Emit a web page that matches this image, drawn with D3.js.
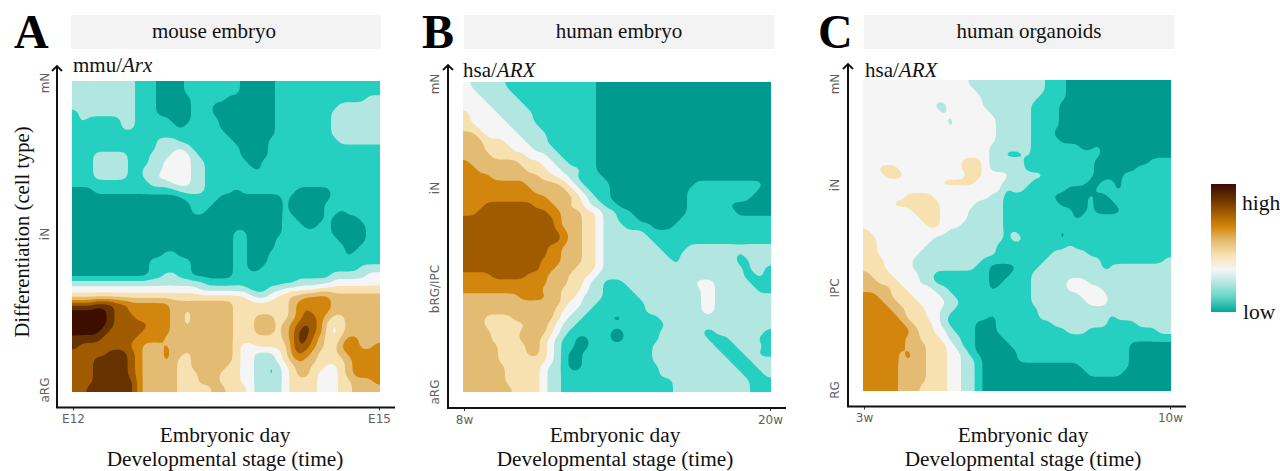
<!DOCTYPE html>
<html><head><meta charset="utf-8">
<script src="https://cdn.jsdelivr.net/npm/d3@7"></script>
<style>html,body{margin:0;background:#fff}svg{display:block}</style></head>
<body><div id="c"></div>
<script>
// expression level per grid cell (0 = low ... 9 = high); rows run from the top of the map
const mouseGrid = [
"2222222221 1100001111 1111000001 1111111111 1111",
"2222222221 1100001111 1111000001 1111111111 1111",
"2222222221 1100000111 1100000001 1111111111 1122",
"2222222221 1100000111 0000000001 1111111122 2222",
"1222222221 1100000111 0000000001 1111111222 2222",
"1211111221 1111000111 1000000001 1111111222 2222",
"1111111221 1111101111 1000000001 1111111222 2222",
"1111111111 1111111111 1100000001 1111111222 2222",
"1111111111 1122211111 1110000011 1111111122 2222",
"1111111111 1122232111 1111000011 1111111111 1111",
"1112222211 1222333211 1111000011 1111111111 1111",
"1112222211 1223333221 1111100111 1111111111 1111",
"1112222211 2223333221 1111110111 1111111111 1111",
"1112222211 2233333221 1111111111 1111111111 1111",
"1111111111 1222333221 1111111111 1111111111 1111",
"0001111111 1111122221 1110111111 1100000111 1111",
"0000000000 0000001111 1000000000 1000000111 1111",
"0000000000 0000000111 0000000000 1000001111 1111",
"0000000000 0000000110 0000000000 1000001101 1111",
"0000000000 0000000000 0000000000 1100001000 0111",
"0000000000 0000000000 0000000000 1110011000 0011",
"0000000000 0000000000 0001100000 1111111000 0011",
"0000000000 0000000000 0001100001 1111111100 0011",
"0000000000 0000000000 0001100001 1111111110 0111",
"0000000000 0001100000 0001100011 1111111110 1111",
"0000000000 0111111000 0001100011 1111111111 1111",
"0000000000 0111111000 0001100111 1111111111 1222",
"0000000000 0112211000 0001111111 1111111222 2233",
"2222222222 2222222221 1111111111 1122222333 3333",
"3333333333 3333333322 2222211122 3333344444 4444",
"4444444444 4444444444 4444432234 4556666555 5555",
"7778887766 6666555555 5554444444 4566666555 5555",
"9999987766 6666554555 5554444444 4567666555 5555",
"9999987776 6666554555 5554445554 4567765445 5555",
"9999987777 7666554555 5554445554 5678764345 5555",
"9999877777 6666555555 5554445554 5688764345 5555",
"8888777776 6665555555 5554444444 5688654356 6555",
"8777777766 5556555555 5554334444 4687654466 6556",
"7777788876 5556554555 5554332223 4676544456 6666",
"7778888876 5556544555 5554332223 4565544445 6666",
"7778888876 5555544555 5544332212 3455443345 6666",
"7778888876 5555544455 5444332212 3455433345 6666",
"7778888886 5555544455 5444332222 3444433344 5556",
"7788888886 5555544444 5544432222 3444433344 5555"];

const humanGrid = [
"3222221111 1111111110 0000000000 0000000000 0000",
"3322222111 1111111110 0000000000 0000000000 0000",
"3332222211 1111111110 0000000000 0000000000 0000",
"3333222221 1111111110 0000000000 0000000000 0000",
"4333322222 1111111110 0000000000 0000000000 0000",
"4333332222 1111111110 0000000000 0000000000 0000",
"4433333222 2111111110 0000000000 0000000000 0000",
"5543333322 2211111110 0000000000 0000000000 0000",
"5554443332 2211111110 0000000000 0000000000 0000",
"5554444333 2221111110 0000000000 0000000000 0000",
"5555444443 3322111110 0000000000 0000000000 0000",
"6555555544 4332211110 0000000000 0000000000 0000",
"6655555554 4433222110 0000000000 0000000000 0000",
"6666555555 5443321111 0000000000 0000000000 0000",
"6666666665 5555432111 1000000000 0001111111 1110",
"6666666666 5555543211 1000000000 0011111111 1100",
"6666666666 6655554321 1000000000 0011111111 1000",
"6667777777 6665544322 1100000000 0011111100 0000",
"6677777777 7766555443 2211000000 0011111110 0000",
"7777777777 7776555443 2211100000 0111111111 1111",
"7777777777 7776555443 2221111000 1111111111 1111",
"7777777777 7777655443 2222221111 1111111111 1111",
"7777777777 7777655443 2222222111 1111111111 1111",
"7777777777 7766555443 2222222211 1122222222 2222",
"7777777777 7766555443 2222222221 1222222221 2222",
"7777777777 7666555443 2222222222 1222222221 1222",
"7777777777 7665554443 2222222222 2222222222 1221",
"6666777776 6655544432 2222222222 2222222222 1121",
"6666666666 6655544322 1112222222 2223332222 2111",
"6666666666 6555444322 1111222222 2222332222 2211",
"5555555566 6655443222 1111122222 2222332222 2222",
"5555555555 5555433221 1111112222 2222332222 2222",
"5555555555 5554332211 1111112222 2222332222 2222",
"5554444555 5554322111 1001111122 2222222222 2222",
"5554444445 5543221111 1111111112 2222222222 2222",
"5555444455 5543211111 1001111122 2222112222 2221",
"5555444455 5432110011 1001111122 2222211122 2211",
"5555544445 5432110011 1111111222 2222221112 2221",
"5555544445 5432100111 1111111222 2222222111 2211",
"5555544444 4432100111 1111111222 2322222211 1222",
"5555554444 4322100111 1111111122 2222222221 1122",
"5555554444 4322111111 1111111122 2222222222 1112",
"5555554444 4322111111 1111111111 2222222222 2111",
"5555555444 4322111111 1111111111 2222222222 2111"];

const organoidGrid = [
"3333333333 3333322222 2222221110 0000000000 0000",
"3333333233 3333332222 2222221110 0000000000 0000",
"3333333333 3333333222 2222211110 0000000000 0000",
"3333333333 2233333222 2222111100 0000000000 0000",
"3333333333 3233333322 2222111100 0000000000 0000",
"3333333333 3323333332 2222111100 0000000000 0000",
"3333333333 3323333332 2222111100 0000000000 0000",
"3333333333 3333333332 2222111000 0000000000 0000",
"3333333333 3333333332 2222111100 0000000000 0000",
"3333333333 3333333322 2222111111 1001000000 0000",
"3333333333 3333333322 1112111111 1111000000 0000",
"3333333333 3333444322 2221111111 1110000000 0111",
"3344433333 3333444322 2221111111 1110000001 1111",
"3334443233 3333344333 3222221111 1110000111 1111",
"3333333333 3444443333 2222111111 1100110111 1111",
"3333333333 3333333333 1221111110 0001110111 1111",
"3333334444 3333333322 1111111000 0010011111 1111",
"3333444444 4333332222 1111111100 0010001111 1111",
"3333333444 4333322222 1111111111 0010000111 1111",
"3333333344 4333322222 1111111111 0111111111 1111",
"3333333334 4333222222 1111111111 1111111111 1111",
"4333333333 3322222222 1211111101 1111111111 1111",
"4433333333 2222222222 1221111101 1111111111 1111",
"4433333332 2222222221 1111111112 1111111111 1111",
"4433333322 2222222221 1111111222 2211111111 1111",
"4443333222 2222222111 1111112222 2222111111 1112",
"4443333222 2222221100 0011122222 2222122222 2222",
"5444333322 1111111100 0111222222 2222212222 2222",
"5544433322 1111111100 1111222223 3322222222 2222",
"5555443333 2211111101 1111222223 3333222222 2222",
"6655444333 3221111111 1111222222 2333322222 2222",
"6665544433 3322111111 1111222222 2233322222 2222",
"6666554443 3221111111 1111122222 2222222222 2222",
"6666654443 3211111101 1111122222 2222212222 2222",
"6666665444 3211110001 1111111222 2222211112 2222",
"6666666544 3321110001 1111111112 2211111111 1122",
"6666665544 4322110000 1111111111 1111111111 1111",
"6666665554 4432110000 0111111111 1111111100 0000",
"6666656554 4433210000 0011111111 1111111100 0000",
"6666656554 4433221000 0011111111 1111111100 0000",
"6666655554 4433221000 0000000000 0111111100 0000",
"6666655554 4433221000 0000000000 0011111000 0000",
"6666655554 4433221000 0000000000 0000000000 0000",
"6666655544 4433221000 0000000000 0000000000 0000"];

const levelColors = ["#009a8e","#27d0c0","#b2e6e0","#f5f5f5","#f8e1b0","#e4bb72","#d38608","#a05a02","#653100","#3c0a05"];
const legendColors = ["#3c0a05","#653100","#a05a02","#d38608","#e4bb72","#f8e1b0","#f5f5f5","#b2e6e0","#5fd3c6","#00a89a"];

const panelLetters = ["A","B","C"];
const stripTitles = ["mouse embryo","human embryo","human organoids"];
const genePrefix = ["mmu/","hsa/","hsa/"];
const geneNames = ["Arx","ARX","ARX"];
const timeTicks = [["E12","E15"],["8w","20w"],["3w","10w"]];
const cellTicks = [["aRG","iN","mN"],["aRG","bRG/IPC","iN","mN"],["RG","IPC","iN","mN"]];
const grids = [mouseGrid, humanGrid, organoidGrid];

const layout = [
 {x0:72, x1:380, y0:81, y1:392, ax:57, ay:407.5, axEnd:395, top:66, strip:[71,381], stripX:214, letterX:14, geneX:73, geneY:72, tickX:45, titleX:225, tl:[73,379], yt:{aRG:390,iN:234,mN:83}},
 {x0:463,x1:771, y0:82, y1:392, ax:448,ay:408, axEnd:786, top:65, strip:[464,774],stripX:619, letterX:422,geneX:463,geneY:77, tickX:435,titleX:615, tl:[464,770], yt:{aRG:392,"bRG/IPC":289,iN:188,mN:84}},
 {x0:863,x1:1171,y0:80, y1:391, ax:848,ay:406.5,axEnd:1186,top:64, strip:[864,1174],stripX:1029,letterX:818,geneX:865,geneY:77, tickX:835,titleX:1023,tl:[864,1170],yt:{RG:390,IPC:288,iN:185,mN:84}}
];

const serif = "'Liberation Serif','Times New Roman',serif";
const svg = d3.select("#c").append("svg").attr("width",1280).attr("height",471);
const defs = svg.append("defs");
const marker = defs.append("marker").attr("id","arrow").attr("viewBox","-6 -6 12 12")
  .attr("markerWidth",12).attr("markerHeight",12).attr("markerUnits","userSpaceOnUse").attr("refX",0).attr("refY",0).attr("orient","auto");
marker.append("path").attr("d","M-5,-5L0,0L-5,5").attr("fill","none").attr("stroke","#111").attr("stroke-width",1.8);
const blur = defs.append("filter").attr("id","soft"); blur.append("feGaussianBlur").attr("stdDeviation",0.5);

const color = d3.scaleOrdinal().domain(d3.range(levelColors.length)).range(levelColors);
const fine = 3; // each cell is drawn on a finer raster so region outlines are rounded

grids.forEach((rows,i)=>{
  const L = layout[i];
  const g = svg.append("g");
  // strip
  g.append("rect").attr("x",L.strip[0]).attr("y",15).attr("width",L.strip[1]-L.strip[0]).attr("height",34).attr("fill","#f3f3f3");
  g.append("text").attr("x",L.stripX).attr("y",38).attr("text-anchor","middle").attr("font-family",serif).attr("font-size",21).attr("fill","#111").text(stripTitles[i]);
  g.append("text").attr("x",L.letterX).attr("y",48).attr("font-family",serif).attr("font-weight","bold").attr("font-size",48).attr("fill","#000").text(panelLetters[i]);
  const gene = g.append("text").attr("x",L.geneX).attr("y",L.geneY).attr("font-family",serif).attr("font-size",21).attr("fill","#111");
  gene.append("tspan").text(genePrefix[i]);
  gene.append("tspan").attr("font-style","italic").text(geneNames[i]);

  // map: the grid is padded by one repeated cell so the contours reach the frame
  const m = rows.map(r=>r.replace(/ /g,"").split("").map(Number));
  const nr = m.length, nc = m[0].length;
  const w = (nc+2)*fine, h = (nr+2)*fine;
  const raster = new Float64Array(w*h);
  for(let y=0;y<h;y++){ for(let x=0;x<w;x++){
    const r = Math.floor(y/fine)-1, c = Math.floor(x/fine)-1;
    raster[y*w+x] = m[Math.max(0,Math.min(nr-1,r))][Math.max(0,Math.min(nc-1,c))];
  }}
  d3.blur2({data:raster,width:w,height:h},1.2);
  const sx = d3.scaleLinear().domain([fine,(nc+1)*fine]).range([L.x0,L.x1]);
  const sy = d3.scaleLinear().domain([fine,(nr+1)*fine]).range([L.y0,L.y1]);
  const levels = d3.range(1,levelColors.length);
  const contours = d3.contours().size([w,h]).thresholds(levels.map(k=>k-0.5))(raster);
  const path = d3.geoPath(d3.geoTransform({point(x,y){this.stream.point(sx(x),sy(y));}}));
  const clipId = "clip"+i;
  defs.append("clipPath").attr("id",clipId).append("rect").attr("x",L.x0).attr("y",L.y0).attr("width",L.x1-L.x0).attr("height",L.y1-L.y0);
  const map = g.append("g").attr("clip-path",`url(#${clipId})`).append("g").attr("filter","url(#soft)");
  map.append("rect").attr("x",L.x0-3).attr("y",L.y0-3).attr("width",L.x1-L.x0+6).attr("height",L.y1-L.y0+6).attr("fill",color(0));
  map.selectAll("path.lv").data(contours).join("path").attr("class","lv")
    .attr("d",path).attr("fill",(d,j)=>color(j+1));

  // axes
  const tx = d3.scalePoint().domain(timeTicks[i]).range(L.tl);
  const xAxis = g.append("g").attr("transform",`translate(0,${L.ay})`).call(d3.axisBottom(tx).tickSize(3).tickPadding(4));
  xAxis.select(".domain").remove();
  xAxis.selectAll("line").attr("stroke","#333");
  xAxis.selectAll("text").attr("font-family","'DejaVu Sans',sans-serif").attr("font-size",12).attr("fill","#606060");
  g.append("line").attr("x1",L.ax-1).attr("x2",L.axEnd).attr("y1",L.ay).attr("y2",L.ay).attr("stroke","#111").attr("stroke-width",2);
  g.append("line").attr("x1",L.ax).attr("x2",L.ax).attr("y1",L.ay).attr("y2",L.top).attr("stroke","#111").attr("stroke-width",2).attr("marker-end","url(#arrow)");
  g.selectAll("text.yt").data(cellTicks[i]).join("text").attr("class","yt")
    .attr("transform",d=>`translate(${L.tickX},${L.yt[d]}) rotate(-90)`).attr("text-anchor","middle").attr("dominant-baseline","middle")
    .attr("font-family","'DejaVu Sans',sans-serif").attr("font-size",12).attr("fill","#606060").text(d=>d);
  g.append("text").attr("x",L.titleX).attr("y",442).attr("text-anchor","middle").attr("font-family",serif).attr("font-size",21.3).attr("fill","#111").text("Embryonic day");
  g.append("text").attr("x",L.titleX).attr("y",466).attr("text-anchor","middle").attr("font-family",serif).attr("font-size",21.3).attr("fill","#111").text("Developmental stage (time)");
});

svg.append("text").attr("transform","translate(29,232) rotate(-90)").attr("text-anchor","middle").attr("font-family",serif).attr("font-size",20.6).attr("fill","#111").text("Differentiation (cell type)");

// legend
const grad = defs.append("linearGradient").attr("id","lg").attr("x1",0).attr("x2",0).attr("y1",0).attr("y2",1);
const stopPos = d3.scaleLinear().domain([0,legendColors.length-1]).range([0,1]);
grad.selectAll("stop").data(legendColors).join("stop").attr("offset",(d,i)=>stopPos(i)).attr("stop-color",d=>d);
svg.append("rect").attr("x",1211).attr("y",184).attr("width",25).attr("height",128).attr("fill","url(#lg)");
svg.append("text").attr("x",1242).attr("y",210).attr("font-family",serif).attr("font-size",21.5).attr("fill","#111").text("high");
svg.append("text").attr("x",1243).attr("y",319).attr("font-family",serif).attr("font-size",21.5).attr("fill","#111").text("low");
</script></body></html>
